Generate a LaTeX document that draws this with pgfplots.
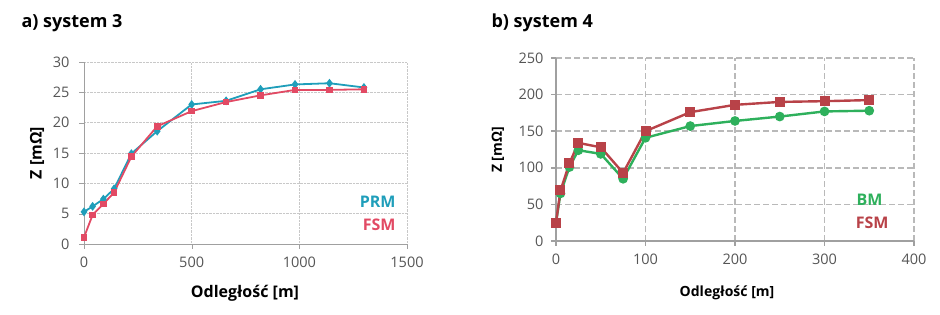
\documentclass[border=0pt]{standalone}
\usepackage{pgfplots}
\pgfplotsset{compat=1.18}
\usepackage{fontspec}
\setmainfont{Open Sans}

\definecolor{prm}{RGB}{31,158,186}
\definecolor{fsmA}{RGB}{226,74,100}
\definecolor{bm}{RGB}{46,176,92}
\definecolor{fsmB}{RGB}{184,66,72}
\definecolor{axgray}{RGB}{160,160,160}
\definecolor{gridgray}{RGB}{200,200,200}
\definecolor{gridgrayB}{RGB}{185,185,185}
\definecolor{ticktext}{RGB}{85,85,85}

\pgfplotsset{
  common/.style={
    scale only axis, anchor=south west, clip=false,
    axis x line*=bottom, axis y line*=left,
    axis line style={axgray},
    tick align=outside, major tick length=5pt,
    tick style={axgray},
    grid=major,
    /pgf/number format/assume math mode=true,
    /pgf/number format/1000 sep={},
    tick label style={font=\fontsize{14.5}{16}\selectfont, text=ticktext},
  }
}

\begin{document}
\begin{tikzpicture}[x=1pt,y=1pt]
\path[use as bounding box] (0,0) rectangle (940,315);

% ---- a) system 3 ----
\node[anchor=west, font=\fontsize{18}{20}\selectfont\bfseries] at (18,292) {a) system 3};
\begin{axis}[common,
  at={(84pt,71pt)}, width=323pt, height=182pt,
  xmin=0, xmax=1500, ymin=0, ymax=30,
  xtick={0,500,1000,1500}, ytick={0,5,10,15,20,25,30},
  axis line style={axgray, line width=0.8pt},
  grid style={gridgray, densely dotted, line width=0.8pt},
  xticklabel style={yshift=-4pt}, yticklabel style={xshift=-6pt},
]
\addplot[color=prm, line width=1.8pt, mark=diamond*, mark size=3pt] coordinates {
  (0,5.3) (40,6.2) (90,7.4) (140,9.1) (220,14.9) (340,18.6)
  (500,23.0) (660,23.6) (820,25.5) (980,26.3) (1140,26.5) (1300,25.8)
};
\addplot[color=fsmA, line width=1.8pt, mark=square*, mark size=2.4pt] coordinates {
  (0,1.1) (40,4.8) (90,6.6) (140,8.5) (220,14.4) (340,19.4)
  (500,21.9) (660,23.4) (820,24.5) (980,25.4) (1140,25.4) (1300,25.5)
};
\end{axis}
\node[rotate=90, font=\fontsize{16}{18}\selectfont\bfseries] at (37,162) {Z [mΩ]};
\node[font=\fontsize{16}{18}\selectfont\bfseries] at (245,22) {Odległość [m]};
\node[anchor=east, text=prm, font=\fontsize{16}{18}\selectfont\bfseries] at (399,113) {PRM};
\node[anchor=east, text=fsmA, font=\fontsize{16}{18}\selectfont\bfseries] at (399,90) {FSM};

% ---- b) system 4 ----
\node[anchor=west, font=\fontsize{18}{20}\selectfont\bfseries] at (488,292) {b) system 4};
\begin{axis}[common,
  at={(556pt,74pt)}, width=358pt, height=183pt,
  xmin=0, xmax=400, ymin=0, ymax=250,
  xtick={0,100,200,300,400}, ytick={0,50,100,150,200,250},
  axis line style={axgray, line width=1.6pt},
  tick style={axgray, line width=1.6pt},
  grid style={gridgrayB, dash pattern=on 6pt off 3pt, line width=1.6pt},
  xticklabel style={yshift=-4pt}, yticklabel style={xshift=-4pt},
]
\addplot[color=bm, line width=2.4pt, mark=*, mark size=3.6pt] coordinates {
  (0,25) (5,65) (15,101) (25,124) (50,119) (75,85) (100,141)
  (150,157) (200,164) (250,170) (300,177) (350,178)
};
\addplot[color=fsmB, line width=2.4pt, mark=square*, mark size=3.8pt] coordinates {
  (0,25) (5,69) (15,106) (25,134) (50,128) (75,93) (100,150)
  (150,176) (200,186) (250,190) (300,191) (350,192.5)
};
\end{axis}
\node[rotate=90, font=\fontsize{14}{16}\selectfont\bfseries] at (498,165) {Z [mΩ]};
\node[font=\fontsize{14}{16}\selectfont\bfseries] at (727,22) {Odległość [m]};
\node[anchor=east, text=bm, font=\fontsize{16}{18}\selectfont\bfseries] at (886,115) {BM};
\node[anchor=east, text=fsmB, font=\fontsize{16}{18}\selectfont\bfseries] at (892,92) {FSM};
\end{tikzpicture}
\end{document}
